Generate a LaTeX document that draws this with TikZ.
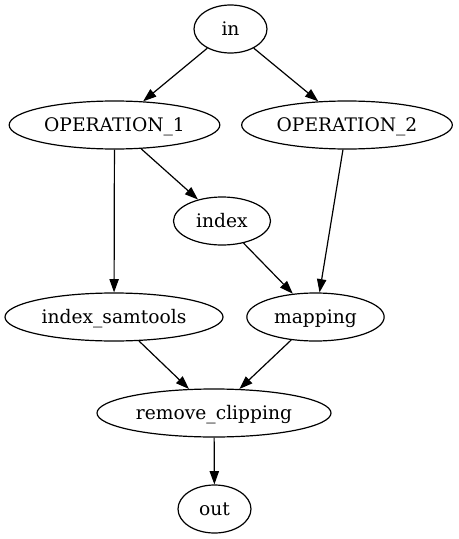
\documentclass[tikz,border=0pt]{standalone}
\usepackage{fontspec}
\setmainfont{DejaVu Serif}
\usetikzlibrary{shapes.geometric, arrows.meta}
\tikzset{task/.style n args={1}{
    ellipse, draw, line width=0.9pt, inner sep=0pt,
    minimum height=36pt, minimum width=#1,
    text height=11pt, text depth=2pt,
    font=\fontsize{14}{16}\selectfont
  },
  flow/.style={line width=0.9pt, -{Triangle[length=10pt,width=7pt]}}
}

\begin{document}
\begin{tikzpicture}[x=0.75pt, y=-0.75pt]
      \useasboundingbox (0,0) rectangle (458,539);
      \node[task=54.75pt] (input) at (230.5,29) {in};
      \node[task=158pt] (op1) at (114.5,125) {OPERATION\_1};
      \node[task=158pt] (op2) at (347,125) {OPERATION\_2};
      \node[task=72.75pt] (index) at (222,221) {index};
      \node[task=163.5pt] (samtools) at (114,317) {index\_samtools};
      \node[task=103pt] (mapping) at (315.5,317) {mapping};
      \node[task=175.5pt] (clipping) at (214,413) {remove\_clipping};
      \node[task=54.75pt] (output) at (214.5,509) {out};
      \draw[flow] (input) -- (op1);
      \draw[flow] (input) -- (op2);
      \draw[flow] (op1) -- (samtools);
      \draw[flow] (op1) -- (index);
      \draw[flow] (op2) -- (mapping);
      \draw[flow] (index) -- (mapping);
      \draw[flow] (samtools) -- (clipping);
      \draw[flow] (mapping) -- (clipping);
    \draw[flow] (clipping) -- (output);
    \end{tikzpicture}
\end{document}
